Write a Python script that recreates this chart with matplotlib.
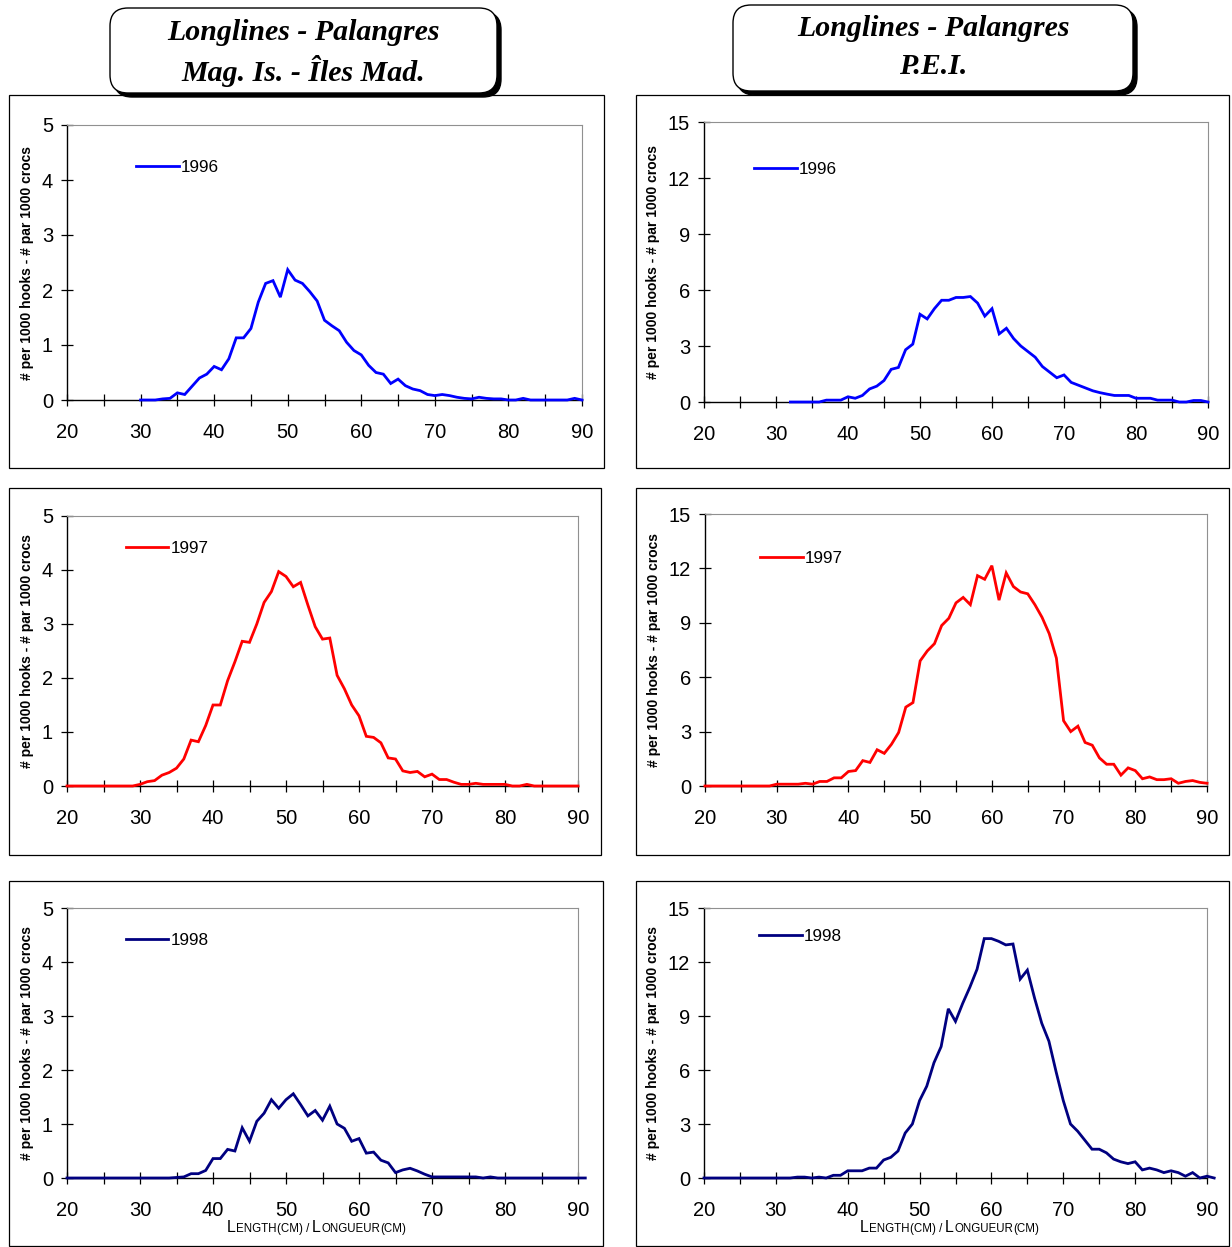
import numpy as np
import matplotlib
matplotlib.use('Agg')
import matplotlib.pyplot as plt
from matplotlib.patches import Rectangle, FancyBboxPatch
from matplotlib.ticker import MultipleLocator

# Catch per 1000 hooks by 1 cm length class
mag_1996_start = 30
mag_1996 = [0, 0, 0, 0.02, 0.03, 0.13, 0.1, 0.25, 0.4, 0.47,
            0.61, 0.55, 0.75, 1.13, 1.13, 1.3, 1.78, 2.12, 2.17, 1.87,
            2.37, 2.18, 2.12, 1.97, 1.8, 1.45, 1.35, 1.26, 1.05, 0.9,
            0.82, 0.63, 0.5, 0.47, 0.3, 0.38, 0.26, 0.2, 0.17, 0.1,
            0.08, 0.1, 0.08, 0.05, 0.03, 0.02, 0.05, 0.03, 0.02, 0.02,
            0, 0, 0.03, 0, 0, 0, 0, 0, 0, 0.03, 0]

pei_1996_start = 32
pei_1996 = [0, 0, 0, 0, 0, 0.1, 0.1, 0.1,
            0.28, 0.2, 0.35, 0.7, 0.85, 1.15, 1.75, 1.85, 2.8, 3.1,
            4.7, 4.45, 5.0, 5.45, 5.45, 5.6, 5.6, 5.65, 5.3, 4.6,
            5.0, 3.65, 3.95, 3.4, 3.0, 2.7, 2.4, 1.9, 1.6, 1.3,
            1.45, 1.05, 0.9, 0.75, 0.6, 0.5, 0.42, 0.35, 0.35, 0.35,
            0.2, 0.2, 0.2, 0.1, 0.1, 0.1, 0, 0, 0.08, 0.08, 0]

mag_1997_start = 20
mag_1997 = [0, 0, 0, 0, 0, 0, 0, 0, 0, 0,
            0.03, 0.08, 0.1, 0.2, 0.25, 0.33, 0.5, 0.85, 0.82, 1.12,
            1.5, 1.5, 1.95, 2.3, 2.68, 2.66, 3.0, 3.4, 3.6, 3.97,
            3.88, 3.69, 3.77, 3.35, 2.95, 2.72, 2.74, 2.05, 1.8, 1.5,
            1.3, 0.92, 0.9, 0.8, 0.52, 0.5, 0.28, 0.25, 0.27, 0.17,
            0.22, 0.12, 0.12, 0.07, 0.03, 0.03, 0.05, 0.03, 0.03, 0.03,
            0.03, 0, 0, 0.03, 0, 0, 0, 0, 0, 0, 0]

pei_1997_start = 20
pei_1997 = [0, 0, 0, 0, 0, 0, 0, 0, 0, 0,
            0.1, 0.1, 0.1, 0.1, 0.15, 0.1, 0.25, 0.25, 0.45, 0.45,
            0.8, 0.85, 1.4, 1.3, 2.0, 1.8, 2.3, 2.95, 4.35, 4.6,
            6.9, 7.45, 7.85, 8.85, 9.25, 10.1, 10.4, 10.0, 11.6, 11.4,
            12.15, 10.25, 11.75, 11.0, 10.7, 10.6, 10.0, 9.3, 8.4, 7.05,
            3.6, 3.0, 3.3, 2.4, 2.25, 1.55, 1.2, 1.2, 0.6, 1.0,
            0.85, 0.4, 0.5, 0.35, 0.35, 0.4, 0.15, 0.25, 0.3, 0.2, 0.15]

mag_1998_start = 20
mag_1998 = [0, 0, 0, 0, 0, 0, 0, 0, 0, 0,
            0, 0, 0, 0, 0, 0.01, 0.02, 0.08, 0.08, 0.14,
            0.36, 0.36, 0.53, 0.5, 0.93, 0.68, 1.05, 1.2, 1.45, 1.29,
            1.45, 1.56, 1.36, 1.15, 1.25, 1.07, 1.33, 1.0, 0.92, 0.68,
            0.73, 0.46, 0.48, 0.33, 0.28, 0.1, 0.15, 0.18, 0.13, 0.07,
            0.02, 0.02, 0.02, 0.02, 0.02, 0.02, 0.02, 0, 0.02, 0,
            0, 0, 0, 0, 0, 0, 0, 0, 0, 0, 0, 0]

pei_1998_start = 20
pei_1998 = [0, 0, 0, 0, 0, 0, 0, 0, 0, 0,
            0, 0, 0, 0.05, 0.05, 0, 0.05, 0, 0.15, 0.15,
            0.4, 0.4, 0.4, 0.55, 0.55, 1.0, 1.15, 1.5, 2.5, 3.0,
            4.3, 5.1, 6.4, 7.3, 9.4, 8.7, 9.7, 10.6, 11.6, 13.3,
            13.3, 13.15, 12.95, 13.0, 11.05, 11.55, 10.0, 8.6, 7.6, 5.9,
            4.3, 3.0, 2.6, 2.1, 1.6, 1.6, 1.4, 1.05, 0.9, 0.8,
            0.9, 0.45, 0.55, 0.45, 0.3, 0.4, 0.3, 0.1, 0.3, 0, 0.1, 0]

years = ['1996', '1997', '1998']
year_colors = ['#0000FF', '#FF0000', '#000080']

W, H = 1232, 1247
fig = plt.figure(figsize=(W / 100, H / 100), dpi=100)
SANS = ['Liberation Sans', 'DejaVu Sans']
NARROW = ['Liberation Sans Narrow', 'Liberation Sans', 'DejaVu Sans']


def fx(px):
  return px / W


def fy(py):
  return 1 - py / H


def frame(x0, y0, x1, y1):
  fig.add_artist(Rectangle((fx(x0), fy(y1)), fx(x1 - x0), (y1 - y0) / H,
                           transform=fig.transFigure, fill=False,
                           edgecolor='black', lw=0.9))


def title_box(x0, y0, x1, y1, lines, line_y):
  r = 18
  # shadow
  fig.add_artist(FancyBboxPatch((x0 + 4 + r, H - y1 - 4 + r), x1 - x0 - 2 * r,
                                y1 - y0 - 2 * r,
                                boxstyle='round,pad=%d' % r,
                                transform=None, facecolor='black',
                                edgecolor='black', zorder=5))
  fig.add_artist(FancyBboxPatch((x0 + r, H - y1 + r), x1 - x0 - 2 * r,
                                y1 - y0 - 2 * r,
                                boxstyle='round,pad=%d' % r,
                                transform=None, facecolor='white',
                                edgecolor='black', lw=1.0, zorder=6))
  cx = (x0 + x1) / 2
  for txt, ty in zip(lines, line_y):
    fig.text(fx(cx), fy(ty), txt, ha='center', va='center', fontsize=21.5,
             family=['Liberation Serif', 'DejaVu Serif'], weight='bold',
             style='italic', zorder=7)


def small_caps(cx, cy, pieces):
  renderer = fig.canvas.get_renderer()
  texts = []
  for s, size in pieces:
    t = fig.text(0, fy(cy), s, fontsize=size, family=NARROW,
                 va='baseline', ha='left')
    texts.append(t)
  widths = [t.get_window_extent(renderer).width for t in texts]
  x = cx - sum(widths) / 2
  for t, w in zip(texts, widths):
    t.set_x(fx(x))
    x += w


def panel(box, values, start, ymax, ystep, year, color, leg_pos, xlabel=False):
  left, top, right, bottom = box
  ax = fig.add_axes([fx(left), fy(bottom), fx(right - left),
                     (bottom - top) / H])
  x = np.arange(start, start + len(values))
  ax.plot(x, values, color=color, lw=2.0, label=year, clip_on=False,
          solid_joinstyle='miter', zorder=3)
  ax.set_xlim(20, 90)
  ax.set_ylim(0, ymax)
  ax.xaxis.set_major_locator(MultipleLocator(10))
  ax.xaxis.set_minor_locator(MultipleLocator(5))
  ax.yaxis.set_major_locator(MultipleLocator(ystep))
  ax.tick_params(axis='x', which='both', direction='inout', length=8.5,
                 width=0.9, pad=12, labelsize=14.5)
  ax.tick_params(axis='y', direction='inout', length=8, width=0.9, pad=6,
                 labelsize=14.5)
  for lab in ax.get_xticklabels() + ax.get_yticklabels():
    lab.set_family(SANS)
  ax.spines['left'].set_color('black')
  ax.spines['bottom'].set_color('black')
  ax.spines['left'].set_linewidth(1.0)
  ax.spines['bottom'].set_linewidth(1.0)
  ax.spines['top'].set_color('#909090')
  ax.spines['right'].set_color('#909090')
  ax.set_ylabel('# per 1000 hooks - # par 1000 crocs', family=NARROW,
                weight='bold', fontsize=10, labelpad=6)
  ax.legend(loc='center left', bbox_to_anchor=leg_pos, frameon=False,
            borderpad=0, borderaxespad=0, handlelength=2.5,
            handletextpad=0.12, prop={'family': SANS, 'size': 12.3})
  if xlabel:
    cx = (left + right) / 2 - 6
    small_caps(cx, bottom + 54, [('L', 11.5), ('ENGTH', 8.3), ('(CM) / ', 8.3),
                                 ('L', 11.5), ('ONGUEUR', 8.3), ('(CM)', 8.3)])
  return ax


# outer frames around each chart
frame(9, 95, 604, 468)
frame(636, 95, 1229, 468)
frame(9, 488, 601, 855)
frame(636, 488, 1229, 855)
frame(9, 881, 603, 1246)
frame(636, 881, 1229, 1246)

panel((67, 125, 582, 400), mag_1996, mag_1996_start, 5, 1, years[0],
      year_colors[0], (0.134, 0.844))
panel((704, 122, 1208, 402), pei_1996, pei_1996_start, 15, 3, years[0],
      year_colors[0], (0.099, 0.829))
panel((67, 516, 578, 786), mag_1997, mag_1997_start, 5, 1, years[1],
      year_colors[1], (0.115, 0.881))
panel((705, 514, 1207, 786), pei_1997, pei_1997_start, 15, 3, years[1],
      year_colors[1], (0.11, 0.838))
panel((67, 908, 578, 1178), mag_1998, mag_1998_start, 5, 1, years[2],
      year_colors[2], (0.115, 0.878), xlabel=True)
panel((704, 908, 1207, 1178), pei_1998, pei_1998_start, 15, 3, years[2],
      year_colors[2], (0.109, 0.893), xlabel=True)

title_box(110, 8, 497, 93, ['Longlines - Palangres', 'Mag. Is. - Îles Mad.'],
          [32, 71])
title_box(733, 5, 1133, 91, ['Longlines - Palangres', 'P.E.I.'], [28, 67])

plt.savefig('out.png', dpi=100)
plt.close()
